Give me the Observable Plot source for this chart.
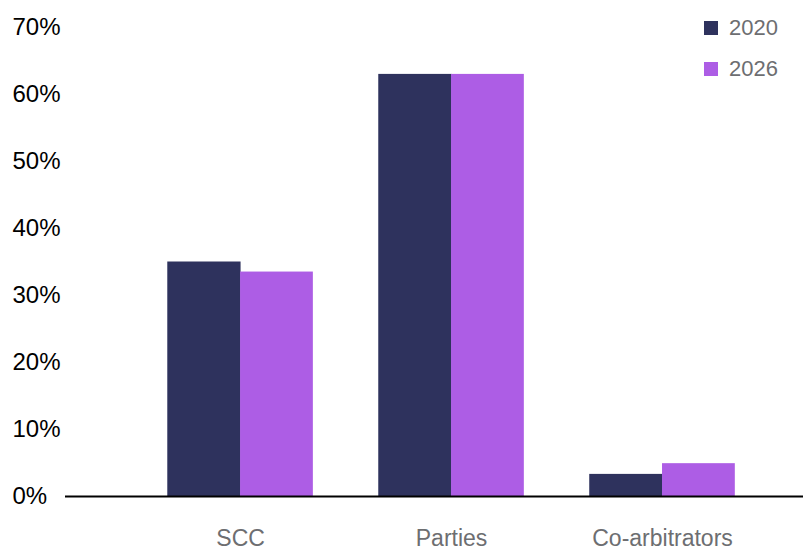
<!DOCTYPE html>
<html>
<head>
<meta charset="utf-8">
<script src="https://cdn.jsdelivr.net/npm/d3@7"></script>
<script src="https://cdn.jsdelivr.net/npm/@observablehq/plot@0.6"></script>
<style>
  html, body { margin: 0; padding: 0; background: #fff; }
  #wrap { position: relative; width: 803px; height: 550px; font-family: "Liberation Sans", Arial, sans-serif; }
  #legend { position: absolute; left: 704px; top: 14px; }
  .item { display: flex; align-items: center; height: 27px; margin-bottom: 14px; }
  .sw { width: 14px; height: 14px; margin-right: 11px; }
  .lab { font-size: 22px; color: #6d6e71; line-height: 1; }
</style>
</head>
<body>
<div id="wrap"><div id="legend"></div></div>
<script>
// Who appoints the chair: share of cases by appointing party
const categories = ["SCC", "Parties", "Co-arbitrators"];
const years = ["2020", "2026"];
const values2020 = [35, 63, 3.3];
const values2026 = [33.5, 63, 4.9];
const yTicks = [0, 10, 20, 30, 40, 50, 60, 70];
const colors = ["#2e325d", "#ad5de5"];

const rows2020 = categories.map((c, i) => ({category: c, value: values2020[i]}));
const rows2026 = categories.map((c, i) => ({category: c, value: values2026[i]}));

const width = 803;
const xPad = {paddingInner: 0.31, paddingOuter: 0.404, align: 0.6};
const bandwidth = (width - 65) / (categories.length - xPad.paddingInner + 2 * xPad.paddingOuter) * (1 - xPad.paddingInner);
const half = bandwidth / 2;

const chart = Plot.plot({
  width,
  height: 550,
  marginTop: 27,
  marginBottom: 54,
  marginLeft: 65,
  marginRight: 0,
  style: {fontFamily: "'Liberation Sans', Arial, sans-serif", background: "#fff"},
  x: {domain: categories, ...xPad, round: false, axis: null},
  y: {domain: [0, 70], axis: null},
  marks: [
    Plot.barY(rows2020, {x: "category", y: "value", fill: colors[0], insetLeft: 0, insetRight: half - 0.5}),
    Plot.barY(rows2026, {x: "category", y: "value", fill: colors[1], insetLeft: half, insetRight: 0}),
    Plot.ruleY([0], {stroke: "#000", strokeWidth: 2}),
    Plot.axisY(yTicks, {
      tickSize: 0, tickPadding: 53, textAnchor: "start",
      tickFormat: d => d + "%", fontSize: 24, fill: "#000", label: null
    }),
    Plot.axisX({
      tickSize: 0, tickPadding: 33, fontSize: 23, fill: "#6d6e71", label: null
    })
  ]
});

document.getElementById("wrap").prepend(chart);

const legend = d3.select("#legend");
years.forEach((y, i) => {
  const item = legend.append("div").attr("class", "item");
  item.append("div").attr("class", "sw").style("background", colors[i]);
  item.append("div").attr("class", "lab").text(y);
});
</script>
</body>
</html>
